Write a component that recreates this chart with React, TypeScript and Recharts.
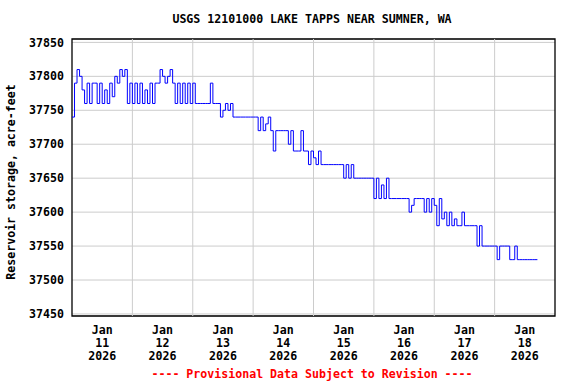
import {
  CartesianGrid,
  Line,
  LineChart,
  ReferenceArea,
  ReferenceLine,
  XAxis,
  YAxis,
} from 'recharts'

// hourly reservoir storage (acre-feet), starting Jan 11 00:00
const jan11 = [37740, 37790, 37810, 37800, 37780, 37760, 37790, 37760, 37790, 37790, 37760, 37790, 37760, 37780, 37760, 37790, 37770, 37800, 37790, 37810, 37800, 37810, 37760, 37790]
const jan12 = [37760, 37790, 37760, 37790, 37760, 37780, 37760, 37790, 37760, 37790, 37790, 37810, 37800, 37790, 37800, 37810, 37790, 37760, 37790, 37760, 37790, 37760, 37790, 37760]
const jan13 = [37790, 37760, 37760, 37760, 37760, 37760, 37760, 37790, 37760, 37760, 37760, 37740, 37750, 37760, 37750, 37760, 37740, 37740, 37740, 37740, 37740, 37740, 37740, 37740]
const jan14 = [37740, 37740, 37720, 37740, 37720, 37730, 37740, 37720, 37690, 37720, 37720, 37720, 37720, 37720, 37700, 37720, 37690, 37690, 37690, 37720, 37690, 37690, 37670, 37690]
const jan15 = [37680, 37670, 37690, 37670, 37670, 37670, 37670, 37670, 37670, 37670, 37670, 37670, 37650, 37670, 37650, 37670, 37650, 37650, 37650, 37650, 37650, 37650, 37650, 37650]
const jan16 = [37620, 37650, 37620, 37640, 37620, 37650, 37620, 37620, 37620, 37620, 37620, 37620, 37620, 37620, 37600, 37610, 37620, 37620, 37620, 37620, 37600, 37620, 37600, 37620]
const jan17 = [37610, 37580, 37620, 37590, 37600, 37580, 37600, 37580, 37590, 37580, 37580, 37600, 37580, 37580, 37580, 37580, 37580, 37550, 37580, 37550, 37550, 37550, 37550, 37550]
const jan18 = [37550, 37530, 37550, 37550, 37550, 37550, 37530, 37530, 37550, 37530, 37530, 37530, 37530, 37530, 37530, 37530, 37530, 37530]

const yTicks = [37450, 37500, 37550, 37600, 37650, 37700, 37750, 37800, 37850]
const dayStarts = [24, 48, 72, 96, 120, 144, 168]
const labelHours = [12, 36, 60, 84, 108, 132, 156, 180]
const labelMonths = ['Jan', 'Jan', 'Jan', 'Jan', 'Jan', 'Jan', 'Jan', 'Jan']
const labelDays = ['11', '12', '13', '14', '15', '16', '17', '18']
const labelYears = ['2026', '2026', '2026', '2026', '2026', '2026', '2026', '2026']

const storage = [...jan11, ...jan12, ...jan13, ...jan14, ...jan15, ...jan16, ...jan17, ...jan18]
const data = storage.map((value, hour) => ({ hour, value }))

const FONT = '"DejaVu Sans Mono", monospace'
const Y_DOMAIN: [number, number] = [37447, 37855]

function DateTick({ x, y, payload }: any) {
  const i = labelHours.indexOf(payload.value)
  if (i < 0) return null
  return (
    <text
      x={x}
      y={y}
      textAnchor="middle"
      fontFamily={FONT}
      fontWeight="bold"
      fontSize={11.6}
      fill="#000"
    >
      <tspan x={x} dy={18}>{labelMonths[i]}</tspan>
      <tspan x={x} dy={13}>{labelDays[i]}</tspan>
      <tspan x={x} dy={13}>{labelYears[i]}</tspan>
    </text>
  )
}

const textStyle = {
  position: 'absolute' as const,
  whiteSpace: 'nowrap' as const,
  fontFamily: FONT,
  fontWeight: 'bold' as const,
  fontSize: 11.6,
  lineHeight: 1,
}

export default function App() {
  return (
    <div
      style={{
        position: 'absolute',
        left: 0,
        top: 0,
        width: 576,
        height: 384,
        background: '#fff',
      }}
    >
      <div style={{ ...textStyle, left: 312, top: 20, transform: 'translate(-50%, -50%)' }}>
        USGS 12101000 LAKE TAPPS NEAR SUMNER, WA
      </div>
      <div
        style={{
          ...textStyle,
          left: 12,
          top: 182,
          transform: 'translate(-50%, -50%) rotate(-90deg)',
        }}
      >
        Reservoir storage, acre-feet
      </div>
      <div
        style={{
          ...textStyle,
          left: 312,
          top: 375,
          color: '#ff0000',
          transform: 'translate(-50%, -50%)',
        }}
      >
        ---- Provisional Data Subject to Revision ----
      </div>
      <LineChart
        width={576}
        height={384}
        data={data}
        margin={{ top: 39, right: 21, bottom: 8, left: 0 }}
      >
        <CartesianGrid vertical={false} stroke="#cccccc" />
        <XAxis
          dataKey="hour"
          type="number"
          domain={[0, 192]}
          ticks={labelHours}
          allowDataOverflow
          height={60}
          tickSize={0}
          tickMargin={0}
          axisLine={false}
          tickLine={false}
          tick={<DateTick />}
          interval={0}
        />
        <YAxis
          type="number"
          domain={Y_DOMAIN}
          ticks={yTicks}
          allowDataOverflow
          width={72}
          axisLine={false}
          tickLine={false}
          interval={0}
          tick={{
            fontFamily: FONT,
            fontWeight: 'bold',
            fontSize: 11.6,
            fill: '#000',
          }}
        />
        {dayStarts.map((h) => (
          <ReferenceLine key={h} x={h} stroke="#cccccc" />
        ))}
        <Line
          dataKey="value"
          type="stepAfter"
          stroke="#0000ff"
          strokeWidth={1}
          dot={false}
          isAnimationActive={false}
        />
        <ReferenceArea
          x1={0}
          x2={192}
          y1={Y_DOMAIN[0]}
          y2={Y_DOMAIN[1]}
          fill="none"
          fillOpacity={0}
          stroke="#000"
          strokeOpacity={1}
          strokeWidth={1.3}
        />
      </LineChart>
    </div>
  )
}
